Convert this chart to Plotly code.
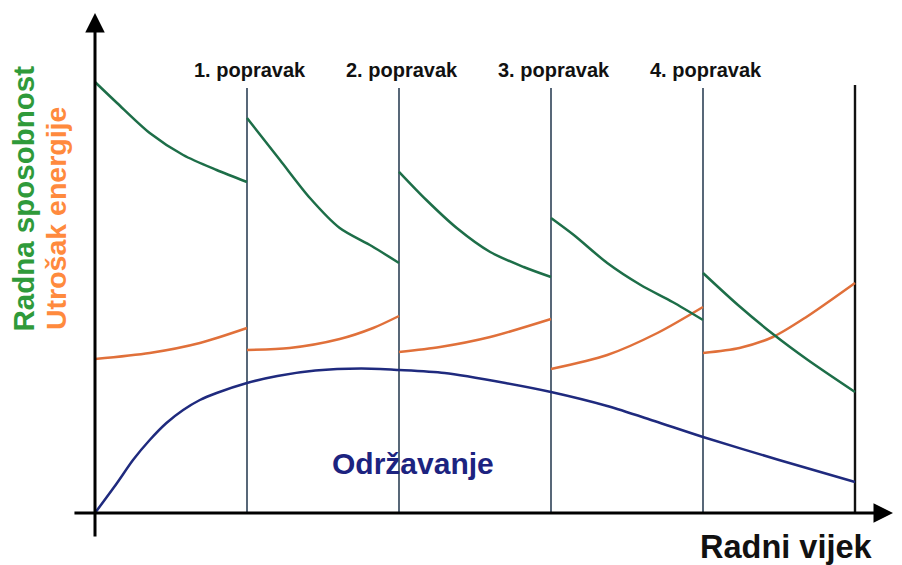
import plotly.graph_objects as go

# ---------------- data ----------------
repairs = [1, 2, 3, 4]
end_x = 5
repair_labels = ["1. popravak", "2. popravak", "3. popravak", "4. popravak"]

# Radna sposobnost (green) - one segment per period
green_x = [
    [0.0, 0.145, 0.36, 0.58, 0.80, 1.0],
    [1.0, 1.217, 1.414, 1.61, 1.82, 2.0],
    [2.0, 2.18, 2.38, 2.60, 2.82, 3.0],
    [3.0, 3.15, 3.37, 3.59, 3.80, 4.0],
    [4.0, 4.23, 4.46, 4.69, 5.0],
]
green_y = [
    [107.75, 102.5, 95.0, 89.5, 85.75, 82.75],
    [98.75, 88.25, 78.75, 71.25, 66.75, 62.5],
    [85.3, 78.25, 71.25, 65.25, 61.5, 59.0],
    [73.75, 69.5, 62.5, 57.0, 52.75, 48.25],
    [60.0, 52.0, 44.75, 38.25, 30.25],
]

# Utrošak energije (orange)
orange_x = [
    [0.0, 0.36, 0.69, 1.0],
    [1.0, 1.28, 1.61, 1.83, 2.0],
    [2.0, 2.27, 2.60, 3.0],
    [3.0, 3.37, 3.70, 4.0],
    [4.0, 4.24, 4.46, 4.68, 5.0],
]
orange_y = [
    [38.5, 40.0, 42.5, 46.25],
    [40.75, 41.25, 43.5, 46.25, 49.25],
    [40.25, 41.5, 44.0, 48.5],
    [36.0, 39.5, 45.0, 51.5],
    [40.0, 41.25, 44.0, 49.0, 57.5],
]

# Održavanje (navy)
blue_x = [0, 0.145, 0.25, 0.36, 0.47, 0.58, 0.69, 0.8, 1.0, 1.2, 1.45, 1.75,
          2.0, 2.3, 2.7, 3.0, 3.37, 3.68, 4.0, 4.5, 5.0]
blue_y = [0, 7.5, 13.25, 18.25, 22.5, 25.75, 28.25, 30.0, 32.5, 34.25, 35.6,
          36.1, 35.75, 35.0, 32.5, 30.25, 26.75, 23.0, 19.0, 13.25, 7.75]

# ---------------- figure ----------------
W, H = 902, 565
FONT = "Liberation Sans, Arial, sans-serif"
GREEN_LINE = "#1d6e48"
ORANGE_LINE = "#e0703a"
BLUE_LINE = "#1f2a7e"


def px(xp):
    return xp / W


def py(yp):
    return 1 - yp / H


fig = go.Figure()

for xs, ys in zip(orange_x, orange_y):
    fig.add_trace(go.Scatter(x=xs, y=ys, mode="lines",
                             line=dict(color=ORANGE_LINE, width=2.5, shape="spline", smoothing=0.8),
                             hoverinfo="skip"))
for xs, ys in zip(green_x, green_y):
    fig.add_trace(go.Scatter(x=xs, y=ys, mode="lines",
                             line=dict(color=GREEN_LINE, width=2.5, shape="spline", smoothing=0.8),
                             hoverinfo="skip"))
fig.add_trace(go.Scatter(x=blue_x, y=blue_y, mode="lines",
                         line=dict(color=BLUE_LINE, width=2.5, shape="spline", smoothing=0.8),
                         hoverinfo="skip"))

# vertical repair lines
for r in repairs:
    fig.add_shape(type="line", x0=r, x1=r, y0=0, y1=106.25, xref="x", yref="y",
                  line=dict(color="#2e4257", width=1.6), layer="below")
fig.add_shape(type="line", x0=end_x, x1=end_x, y0=0, y1=107, xref="x", yref="y",
              line=dict(color="#111111", width=2.4), layer="below")

annotations = []
# axes with arrows
annotations.append(dict(x=5.25, y=0, ax=-0.145, ay=0, xref="x", yref="y", axref="x", ayref="y",
                        showarrow=True, arrowhead=2, arrowsize=1.3, arrowwidth=3,
                        arrowcolor="#000000", text="", standoff=0))
annotations.append(dict(x=0, y=125, ax=0, ay=-6.25, xref="x", yref="y", axref="x", ayref="y",
                        showarrow=True, arrowhead=2, arrowsize=1.3, arrowwidth=3,
                        arrowcolor="#000000", text="", standoff=0))

# repair labels
for r, lab in zip(repairs, repair_labels):
    annotations.append(dict(x=r + 0.02, y=110.75, xref="x", yref="y", text="<b>%s</b>" % lab,
                            showarrow=False, xanchor="center", yanchor="middle",
                            font=dict(family=FONT, size=20, color="#111111")))

# axis titles
annotations.append(dict(x=px(22.5), y=py(334), xref="paper", yref="paper",
                        text="<b>Radna sposobnost</b>", textangle=-90, showarrow=False,
                        xanchor="center", yanchor="bottom",
                        font=dict(family=FONT, size=29.5, color="#2f9a3a")))
annotations.append(dict(x=px(55.5), y=py(332), xref="paper", yref="paper",
                        text="<b>Utrošak energije</b>", textangle=-90, showarrow=False,
                        xanchor="center", yanchor="bottom",
                        font=dict(family=FONT, size=28.5, color="#ff8a3d")))
annotations.append(dict(x=px(786), y=py(547), xref="paper", yref="paper",
                        text="<b>Radni vijek</b>", showarrow=False,
                        xanchor="center", yanchor="middle",
                        font=dict(family=FONT, size=32.5, color="#111111")))
annotations.append(dict(x=px(413), y=py(463), xref="paper", yref="paper",
                        text="<b>Održavanje</b>", showarrow=False,
                        xanchor="center", yanchor="middle",
                        font=dict(family=FONT, size=30, color="#1c2380")))

fig.update_layout(
    width=W, height=H,
    margin=dict(l=0, r=0, t=0, b=0),
    paper_bgcolor="white", plot_bgcolor="white",
    showlegend=False,
    xaxis=dict(range=[-95 / 152, (W - 95) / 152], visible=False, fixedrange=True),
    yaxis=dict(range=[(513 - H) / 4, 513 / 4], visible=False, fixedrange=True),
    annotations=annotations,
)

fig.write_html("out.html", config={"displayModeBar": False},
               post_script="document.body.style.margin='0';document.body.style.overflow='hidden';")
